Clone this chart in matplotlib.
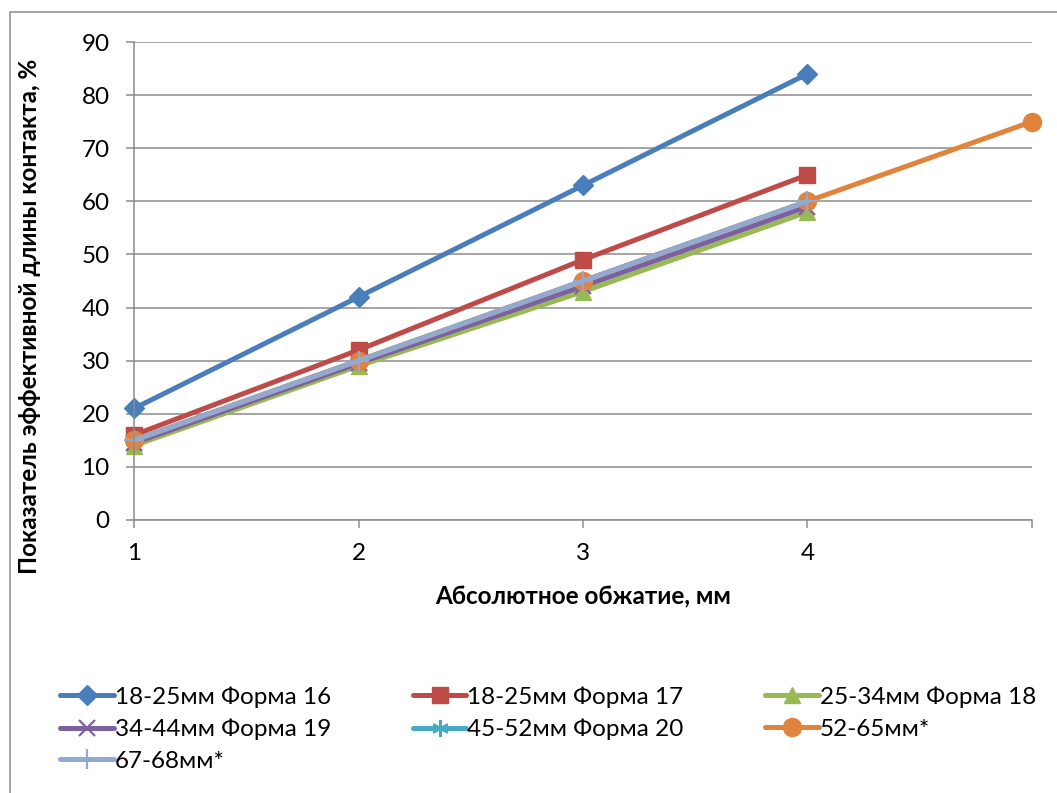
import matplotlib
matplotlib.use("Agg")
import matplotlib.pyplot as plt
from matplotlib.patches import Rectangle

plt.rcParams['font.family'] = ['Lato', 'DejaVu Sans']

# абсолютное обжатие, мм
x4 = [1, 2, 3, 4]
x5 = [1, 2, 3, 4, 5]

forma16 = [21, 42, 63, 84]
forma17 = [16, 32, 49, 65]
forma18 = [14, 29, 43, 58]
forma19 = [14.5, 29.5, 44, 59]
forma20 = [15, 30, 45, 60]
mm52_65 = [15, 30, 45, 60, 75]
mm67_68 = [15, 30, 45, 60]

labels = ['18-25мм Форма 16', '18-25мм Форма 17', '25-34мм Форма 18',
          '34-44мм Форма 19', '45-52мм Форма 20', '52-65мм*', '67-68мм*']
x_ticks = [1, 2, 3, 4]
y_ticks = list(range(0, 91, 10))

series = [
    (x4, forma16, '#4A7EBB', 'D', 10),
    (x4, forma17, '#BE4B48', 's', 12),
    (x4, forma18, '#98B954', '^', 12),
    (x4, forma19, '#7D60A0', 'x', 11),
    (x4, forma20, '#46AAC5', (6, 2, 0), 12),
    (x5, mm52_65, '#E0833D', 'o', 13),
    (x4, mm67_68, '#93A9D0', '+', 14),
]

FS = 17.5

fig = plt.figure(figsize=(10.57, 7.93), dpi=100)
ax = fig.add_axes([0.1268, 0.3443, 0.8495, 0.6027])

handles = []
for (xs, ys, col, mk, ms), lab in zip(series, labels):
    thin = mk in ('x', '+') or isinstance(mk, tuple)
    h, = ax.plot(xs, ys, color=col, lw=3.6, marker=mk, ms=ms,
                 mfc=col, mec=col, mew=1.6 if thin else 1.0,
                 label=lab, solid_capstyle='round', clip_on=False)
    handles.append(h)

ax.set_xlim(1, 5)
ax.set_ylim(0, 90)
ax.set_xticks([1, 2, 3, 4, 5])
ax.set_xticklabels([str(t) for t in x_ticks] + [''])
ax.set_yticks(y_ticks)
ax.yaxis.grid(True, color='#8C8C8C', lw=1.1)
ax.set_axisbelow(True)
for s in ('top', 'right'):
    ax.spines[s].set_visible(False)
for s in ('left', 'bottom'):
    ax.spines[s].set_color('#8C8C8C')
    ax.spines[s].set_linewidth(1.1)
ax.tick_params(axis='both', colors='#8C8C8C', labelcolor='black',
               length=5.5, width=1.1, labelsize=FS, pad=12)
ax.tick_params(axis='x', pad=11)

fig.text(583 / 1057, 1 - 597 / 793, 'Абсолютное обжатие, мм',
         ha='center', va='center', fontsize=FS, fontweight='bold')
fig.text(30 / 1057, 1 - 316 / 793, 'Показатель эффективной длины контакта, %',
         ha='center', va='center', rotation=90, fontsize=FS, fontweight='bold')

# легенда построчно: 3 колонки
order = [0, 3, 6, 1, 4, 2, 5]
fig.legend([handles[i] for i in order], [labels[i] for i in order],
           ncol=3, loc='upper left', bbox_to_anchor=(41 / 1057, 1 - 667 / 793),
           frameon=False, fontsize=FS, handlelength=2.2, handletextpad=0.05,
           columnspacing=3.35, labelspacing=0.44, borderpad=0.3)

# рамка области диаграммы
fig.patches.append(Rectangle((10 / 1057, -0.1), 1.2, 1 - 12 / 793 + 0.1,
                             transform=fig.transFigure, fill=False,
                             ec='#8C8C8C', lw=1.1))

fig.savefig('out.png', dpi=100)
